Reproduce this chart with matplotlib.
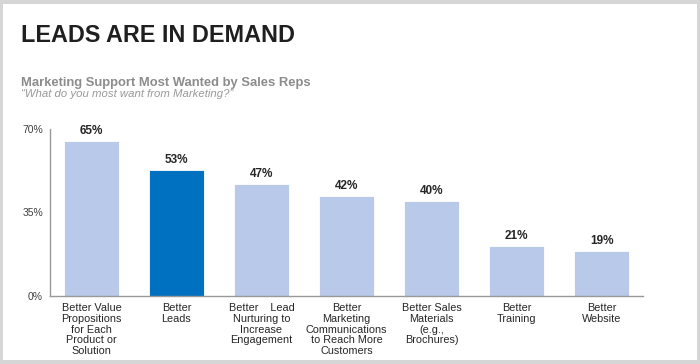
import matplotlib
matplotlib.use("Agg")
from matplotlib import pyplot as plt
from matplotlib.patches import Rectangle

plt.rcParams['font.family'] = ['Liberation Sans', 'DejaVu Sans']

# data
categories = [
    "Better Value\nPropositions\nfor Each\nProduct or\nSolution",
    "Better\nLeads",
    "Better    Lead\nNurturing to\nIncrease\nEngagement",
    "Better\nMarketing\nCommunications\nto Reach More\nCustomers",
    "Better Sales\nMaterials\n(e.g.,\nBrochures)",
    "Better\nTraining",
    "Better\nWebsite",
]
values = [65, 53, 47, 42, 40, 21, 19]
highlight = 1  # "Better Leads"
y_ticks = [0, 35, 70]

light = "#B9C9E9"
dark = "#0070C0"

fig = plt.figure(figsize=(7, 3.64), dpi=100)
fig.patch.set_facecolor("#D6D6D6")
# white panel inside thin grey frame
fig.patches.append(Rectangle((3 / 700, 4 / 364), 694 / 700, 356 / 364,
                             transform=fig.transFigure, facecolor="white",
                             edgecolor="none", zorder=-5))

fig.text(21 / 700, 0.8846, "LEADS ARE IN DEMAND", fontsize=16.8, fontweight="bold",
         color="#1F1F1F", va="baseline")
fig.text(21 / 700, 0.7637, "Marketing Support Most Wanted by Sales Reps", fontsize=9.4,
         fontweight="bold", color="#8C8C8C", va="baseline")
fig.text(21 / 700, 0.7335, "\u201cWhat do you most want from Marketing?\u201d", fontsize=8.2,
         style="italic", color="#999999", va="baseline")

ax = fig.add_axes([50 / 700, 68 / 364, 593 / 700, 167 / 364])
ax.set_facecolor("none")

x = list(range(len(values)))
colors = [dark if i == highlight else light for i in x]
bars = ax.bar(x, values, width=0.647, color=colors, edgecolor="white", linewidth=0.6)

for xi, v in zip(x, values):
    ax.annotate(f"{v}%", (xi, v), xytext=(0, 2.5), textcoords="offset points",
                ha="center", va="bottom", fontsize=8.5, fontweight="bold", color="#262626")

ax.set_xlim(-0.488, 6.488)
ax.set_ylim(0, 70)
ax.set_yticks(y_ticks)
ax.set_yticklabels([f"{t}%" for t in y_ticks], fontsize=7.5, color="#404040")
ax.set_xticks(x)
ax.set_xticklabels(categories, fontsize=7.8, color="#262626", linespacing=1.1)
ax.tick_params(axis="x", length=0, pad=5)
ax.tick_params(axis="y", length=0, pad=5)

for s in ["top", "right"]:
    ax.spines[s].set_visible(False)
ax.spines["left"].set_color("#999999")
ax.spines["bottom"].set_color("#999999")
ax.spines["left"].set_linewidth(1.0)
ax.spines["bottom"].set_linewidth(1.0)

fig.savefig("out.png", dpi=100, facecolor=fig.get_facecolor())
